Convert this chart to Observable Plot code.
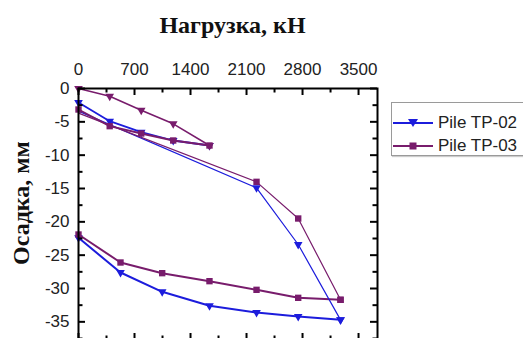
<!DOCTYPE html>
<html><head><meta charset="utf-8">
<script src="https://cdn.jsdelivr.net/npm/d3@7"></script>
<script src="https://cdn.jsdelivr.net/npm/@observablehq/plot@0.6"></script>
<style>
html,body{margin:0;padding:0;background:#fff;}
#wrap{position:relative;width:523px;height:338px;overflow:hidden;background:#fff;}
#title{position:absolute;left:0;top:13px;width:465px;text-align:center;font:bold 24px "Liberation Serif",serif;line-height:24px;color:#111;white-space:nowrap;}
#ylab{position:absolute;left:-78px;top:189px;width:200px;height:28px;line-height:28px;text-align:center;font:bold 24px "Liberation Serif",serif;color:#111;transform:rotate(-90deg);white-space:nowrap;}
#legend{position:absolute;left:391px;top:102px;width:150px;height:52px;border:1px solid #9a9a9a;box-shadow:1px 1px 1px #ccc;background:#fff;}
.row{position:absolute;left:0;height:20px;display:flex;align-items:center;font:17px "Liberation Sans",Arial,sans-serif;color:#222;}
.row svg{margin-right:4px;}
#chart{position:absolute;left:0;top:0;}
</style></head>
<body><div id="wrap">
<div id="chart"></div>
<div id="title">Нагрузка, кН</div>
<div id="ylab">Осадка, мм</div>
<div id="legend"></div>
</div>
<script>
// ---- data (kN, settlement mm) ----
const seriesNames = ["Pile TP-02", "Pile TP-03"];
const seriesColors = ["#1c1cdc", "#781c6c"];
// first loading (both piles coincide)
const load1KN = [0, 390, 784, 1184, 1637];
const load1MM = [0, -1.15, -3.25, -5.3, -8.55];
// first unloading
const unload1KN = [1637, 1184, 784, 390, 0];
const tp02Unload1 = [-8.55, -7.8, -6.55, -4.9, -2.1];
const tp03Unload1 = [-8.55, -7.8, -6.75, -5.65, -3.15];
// reloading
const reloadKN = [0, 2225, 2746, 3275];
const tp02Reload = [-3.4, -14.9, -23.4, -34.7];
const tp03Reload = [-3.7, -14.0, -19.5, -31.7];
// final unloading
const unload2KN = [3275, 2746, 2225, 1637, 1046, 525, 0];
const tp02Unload2 = [-34.7, -34.2, -33.6, -32.6, -30.5, -27.6, -22.4];
const tp03Unload2 = [-31.7, -31.4, -30.2, -28.9, -27.7, -26.1, -21.9];
// ticks
const xMajor = [0, 700, 1400, 2100, 2800, 3500];
const xMinor = [350, 1050, 1750, 2450, 3150];
const yMajor = [0, -5, -10, -15, -20, -25, -30, -35];
const yMinor = [-2.5, -7.5, -12.5, -17.5, -22.5, -27.5, -32.5, -37.5];

// ---- layout ----
const W = 523, H = 345, mt = 88, ml = 78, mr = 146, mb = 5;
const fh = H - mt - mb, fw = W - ml - mr;

const pts = (xs, ys, skipFirst) => xs.map((x, i) => ({x, y: ys[i], i})).filter(d => !(skipFirst && d.i === 0));
const blue = seriesColors[0], purple = seriesColors[1];

const segs = [
  {kn: unload2KN, mm: tp02Unload2, c: blue, s: "tri", w: 2},
  {kn: unload2KN, mm: tp03Unload2, c: purple, s: "sq", w: 2},
  {kn: reloadKN, mm: tp02Reload, c: blue, s: "tri", w: 1.2, skip: true},
  {kn: reloadKN, mm: tp03Reload, c: purple, s: "sq", w: 1.2, skip: true},
  {kn: unload1KN, mm: tp02Unload1, c: blue, s: "tri", w: 1.8},
  {kn: unload1KN, mm: tp03Unload1, c: purple, s: "sq", w: 1.8},
  {kn: load1KN, mm: load1MM, c: purple, s: "tri", w: 1.6},
];

const marks = [];
for (const g of segs) {
  const d = pts(g.kn, g.mm, false);
  marks.push(Plot.line(d, {x: "x", y: "y", stroke: g.c, strokeWidth: g.w, curve: "linear"}));
  const dm = pts(g.kn, g.mm, g.skip);
  if (g.s === "tri") marks.push(Plot.dot(dm, {x: "x", y: "y", symbol: "triangle", rotate: 180, r: 3.2, fill: g.c, stroke: "none"}));
  else marks.push(Plot.dot(dm, {x: "x", y: "y", symbol: "square", r: 3.6, fill: g.c, stroke: "none"}));
}
// ticks (inward)
marks.push(
  Plot.ruleX(xMajor, {x: d => d, insetBottom: fh - 7, stroke: "#000", strokeWidth: 2}),
  Plot.ruleX(xMinor, {x: d => d, insetBottom: fh - 4.5, stroke: "#000", strokeWidth: 2}),
  Plot.ruleX(xMajor, {x: d => d, insetTop: fh - 7, stroke: "#000", strokeWidth: 2}),
  Plot.ruleX(xMinor, {x: d => d, insetTop: fh - 4.5, stroke: "#000", strokeWidth: 2}),
  Plot.ruleY(yMajor, {y: d => d, insetRight: fw - 7, stroke: "#000", strokeWidth: 2}),
  Plot.ruleY(yMinor, {y: d => d, insetRight: fw - 4.5, stroke: "#000", strokeWidth: 2}),
  Plot.ruleY(yMajor, {y: d => d, insetLeft: fw - 7, stroke: "#000", strokeWidth: 2}),
  Plot.ruleY(yMinor, {y: d => d, insetLeft: fw - 4.5, stroke: "#000", strokeWidth: 2}),
  Plot.axisX({anchor: "top", ticks: xMajor, tickSize: 0, tickPadding: 14, label: null, fontSize: 17, tickFormat: d => String(d), fill: "#222"}),
  Plot.axisY({anchor: "left", ticks: yMajor, tickSize: 0, tickPadding: 9, label: null, fontSize: 17, tickFormat: d => String(d), fill: "#222"}),
  Plot.frame({stroke: "#000", strokeWidth: 2})
);

const chart = Plot.plot({
  width: W, height: H,
  marginTop: mt, marginLeft: ml, marginRight: mr, marginBottom: mb,
  style: {fontFamily: "'Liberation Sans', Arial, sans-serif", background: "transparent", overflow: "visible"},
  x: {domain: [0, 3737], axis: null},
  y: {domain: [-37.8, 0], axis: null},
  marks
});
document.getElementById("chart").appendChild(chart);

// legend
const lg = document.getElementById("legend");
seriesNames.forEach((name, i) => {
  const row = document.createElement("div");
  row.className = "row";
  row.style.top = (10 + i * 23) + "px";
  const c = seriesColors[i];
  const sym = i === 0
    ? `<path d="M16,6 L26,6 L21,14 Z" fill="${c}"/>`
    : `<rect x="17.5" y="6.5" width="7" height="7" fill="${c}"/>`;
  row.innerHTML = `<svg width="42" height="20"><line x1="1" y1="10" x2="41" y2="10" stroke="${c}" stroke-width="2"/>${sym}</svg><span>${name}</span>`;
  lg.appendChild(row);
});
</script>
</body></html>
